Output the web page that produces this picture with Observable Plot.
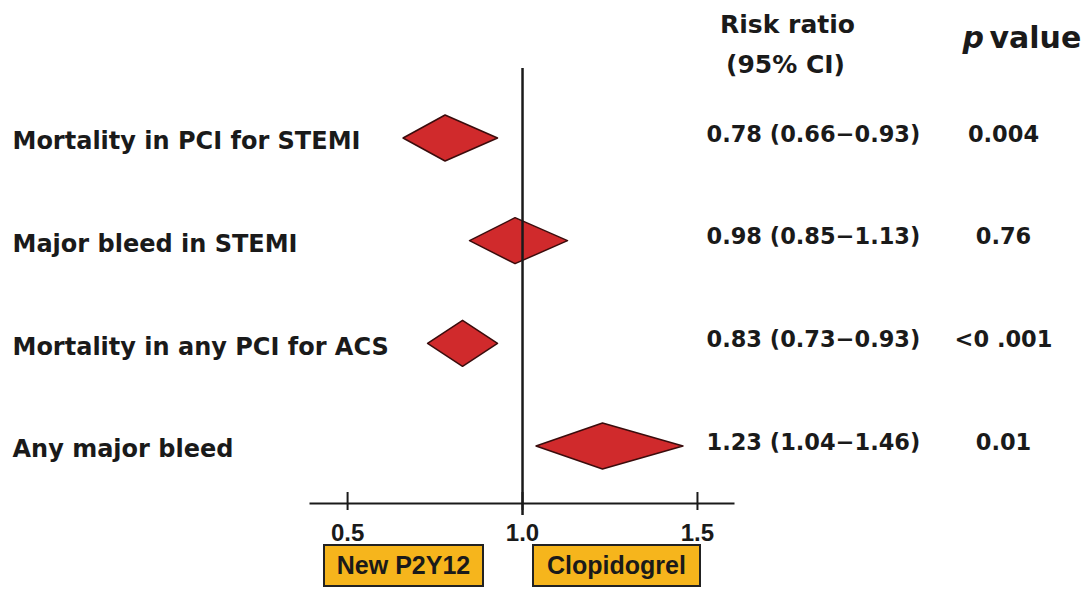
<!DOCTYPE html>
<html><head><meta charset="utf-8">
<script src="https://cdn.jsdelivr.net/npm/d3@7"></script>
<script src="https://cdn.jsdelivr.net/npm/@observablehq/plot@0.6"></script>
<style>
body{margin:0;background:#fff;}
#wrap{position:relative;width:1085px;height:589px;overflow:hidden;}
#wrap svg{overflow:visible;}
.box{position:absolute;top:544px;height:39px;border:2px solid #222;background:#f6b51c;font:bold 25px "Liberation Sans",Arial,sans-serif;color:#1a1a1a;display:flex;align-items:center;justify-content:center;box-sizing:content-box;}
</style></head>
<body><div id="wrap"></div>
<script>
// ---- data ----
const outcomes = ["Mortality in PCI for STEMI", "Major bleed in STEMI", "Mortality in any PCI for ACS", "Any major bleed"];
const riskRatio = [0.78, 0.98, 0.83, 1.23];
const ciLow = [0.66, 0.85, 0.73, 1.04];
const ciHigh = [0.93, 1.13, 0.93, 1.46];
const pValues = ["0.004", "0.76", "<0 .001", "0.01"];
const xTicks = [0.5, 1.0, 1.5];
const xTickLabels = ["0.5", "1.0", "1.5"];
const groupLabels = ["New P2Y12", "Clopidogrel"];
const headerRR = ["Risk ratio", "(95% CI)"];

// ---- derived tables ----
const rows = outcomes.map((o, i) => ({
  i, outcome: o, rr: riskRatio[i], lo: ciLow[i], hi: ciHigh[i], p: pValues[i],
  text: `${riskRatio[i].toFixed(2)} (${ciLow[i].toFixed(2)}\u2212${ciHigh[i].toFixed(2)})`
}));
const H = 0.224; // diamond half-height in row units
const diamonds = rows.flatMap(r => [
  {row: r.i, y: r.i - H, x1: r.rr, x2: r.rr},
  {row: r.i, y: r.i, x1: r.lo, x2: r.hi},
  {row: r.i, y: r.i + H, x1: r.rr, x2: r.rr}
]);

const font = "DejaVu Sans";
const ink = "#1a1a1a";

const plot = Plot.plot({
  width: 1085,
  height: 543,
  marginLeft: 310,
  marginRight: 352,
  marginTop: 68,
  marginBottom: 40,
  style: {fontFamily: font, background: "white", color: ink},
  x: {domain: [0.394, 1.603], label: null},
  y: {domain: [-0.682, 3.555], reverse: true, axis: null},
  marks: [
    Plot.frame({anchor: "bottom", stroke: ink, strokeWidth: 2}),
    Plot.ruleX(xTicks, {x: d => d, insetTop: 424, insetBottom: -7, stroke: ink, strokeWidth: 2}),
    Plot.axisX(xTicks, {
      tickSize: 0, tickPadding: 20, label: null,
      tickFormat: d => xTickLabels[xTicks.indexOf(d)],
      fontSize: 24, fontWeight: "bold", fontFamily: "Liberation Sans, Arial, sans-serif", fill: ink
    }),
    Plot.areaX(diamonds, {y: "y", x1: "x1", x2: "x2", z: "row", fill: "#d02a2c", stroke: "#3a0c0c", strokeWidth: 1.5}),
    Plot.ruleX([1], {insetBottom: -12, stroke: ink, strokeWidth: 2.5}),
    // row labels
    Plot.text(rows, {y: "i", text: "outcome", frameAnchor: "left", dx: -298, dy: 3, textAnchor: "start",
      fontSize: 24, fontWeight: "bold", fill: ink}),
    // risk ratio column
    Plot.text(rows, {y: "i", text: "text", frameAnchor: "right", dx: -27, dy: -4, textAnchor: "start",
      fontSize: 22.5, fontWeight: "bold", fill: ink}),
    // p value column
    Plot.text(rows, {y: "i", text: "p", frameAnchor: "right", dx: 270, dy: -4, textAnchor: "middle",
      fontSize: 22.5, fontWeight: "bold", fill: ink}),
    // headers
    Plot.text([headerRR[0]], {frameAnchor: "top-right", dx: 54, dy: -36, lineAnchor: "bottom", textAnchor: "middle",
      fontSize: 25, fontWeight: "bold", fill: ink}),
    Plot.text([headerRR[1]], {frameAnchor: "top-right", dx: 52, dy: 4, lineAnchor: "bottom", textAnchor: "middle",
      fontSize: 25, fontWeight: "bold", fill: ink}),
    Plot.text(["p"], {frameAnchor: "top-right", dx: 229, dy: -21, lineAnchor: "bottom", textAnchor: "start",
      fontSize: 30, fontWeight: "bold", fontStyle: "italic", fill: ink}),
    Plot.text(["value"], {frameAnchor: "top-right", dx: 256, dy: -21, lineAnchor: "bottom", textAnchor: "start",
      fontSize: 30, fontWeight: "bold", fill: ink})
  ]
});

const wrap = document.getElementById("wrap");
wrap.appendChild(plot);
const boxPos = [{left: 323, width: 157}, {left: 532, width: 165}];
groupLabels.forEach((g, i) => {
  const d = document.createElement("div");
  d.className = "box";
  d.style.left = boxPos[i].left + "px";
  d.style.width = boxPos[i].width + "px";
  d.textContent = g;
  wrap.appendChild(d);
});
</script>
</body></html>
